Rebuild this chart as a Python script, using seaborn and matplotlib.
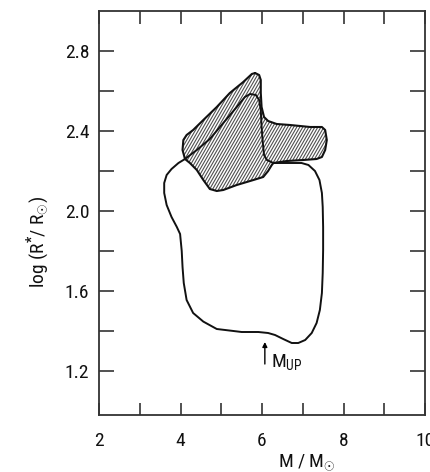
import matplotlib
matplotlib.use("Agg")
import matplotlib.pyplot as plt
from matplotlib import font_manager
from matplotlib.patches import Polygon
from matplotlib.collections import LineCollection
import seaborn as sns
import numpy as np
import pandas as pd

# Hatched region (outer outline), M/M_sun vs log(R*/R_sun)
hatch_x = [5.83, 5.93, 5.97, 5.97, 5.99, 6.05, 6.15, 6.36, 6.69, 7.18,
           7.47, 7.55, 7.59, 7.55, 7.47, 7.34, 7.01, 6.61, 6.28, 6.24,
           6.15, 6.03, 5.79, 5.38, 5.05, 4.89, 4.72, 4.56, 4.40, 4.23,
           4.11, 4.05, 4.07, 4.15, 4.31, 4.56, 4.89, 5.21, 5.54, 5.75]
hatch_y = [2.69, 2.68, 2.655, 2.59, 2.52, 2.47, 2.45, 2.435, 2.43, 2.42,
           2.42, 2.405, 2.355, 2.305, 2.27, 2.26, 2.255, 2.25, 2.24, 2.23,
           2.20, 2.17, 2.155, 2.13, 2.105, 2.10, 2.11, 2.155, 2.205, 2.24,
           2.26, 2.305, 2.355, 2.38, 2.405, 2.455, 2.52, 2.59, 2.645, 2.685]

# Open region outline
blob_x = [4.11, 4.40, 4.72, 5.05, 5.38, 5.58, 5.71, 5.85, 5.93, 5.97,
          5.99, 6.02, 6.05, 6.12, 6.28, 6.48, 6.73, 6.97, 7.14, 7.30,
          7.41, 7.47, 7.49, 7.50, 7.50, 7.49, 7.47, 7.42, 7.34, 7.22,
          7.06, 6.89, 6.73, 6.52, 6.32, 6.15, 5.91, 5.50, 5.30, 4.89,
          4.56, 4.31, 4.15, 4.08, 4.05, 4.03, 3.99, 3.91, 3.78, 3.66,
          3.60, 3.60, 3.66, 3.78, 3.95]
blob_y = [2.26, 2.305, 2.36, 2.44, 2.52, 2.57, 2.585, 2.58, 2.555, 2.505,
          2.42, 2.34, 2.28, 2.255, 2.24, 2.24, 2.24, 2.24, 2.23, 2.20,
          2.155, 2.09, 2.02, 1.92, 1.805, 1.69, 1.59, 1.505, 1.44, 1.39,
          1.355, 1.34, 1.34, 1.36, 1.38, 1.39, 1.395, 1.395, 1.40, 1.41,
          1.447, 1.49, 1.555, 1.64, 1.72, 1.80, 1.885, 1.92, 1.97, 2.03,
          2.09, 2.14, 2.18, 2.21, 2.24]

# M_UP marker
mup_x = 6.07
mup_y = [1.235, 1.345]
mup_label = r"M$_{\mathrm{UP}}$"

x_major = [2, 4, 6, 8, 10]
x_minor = [3, 5, 7, 9]
y_major = [1.2, 1.6, 2.0, 2.4, 2.8]
y_minor = [1.4, 1.8, 2.2, 2.6]

FS = 14


def pick_font(candidates):
    names = {f.name for f in font_manager.fontManager.ttflist}
    for name in candidates:
        if name in names:
            return name
    return "DejaVu Sans"


sns.set_theme(style="ticks")
main_font = pick_font(["Liberation Sans Narrow", "DejaVu Sans Condensed",
                       "Roboto Condensed", "Open Sans Condensed",
                       "Roboto", "Liberation Sans"])
plt.rcParams["font.family"] = [main_font, "DejaVu Sans"]
plt.rcParams["mathtext.fontset"] = "custom"
plt.rcParams["mathtext.rm"] = main_font
plt.rcParams["mathtext.it"] = main_font
plt.rcParams["mathtext.bf"] = main_font + ":bold"

fig = plt.figure(figsize=(4.30, 4.72), dpi=100)
ax = fig.add_axes([99 / 430, 1 - 415 / 472, 326 / 430, 404 / 472])
ax.set_xlim(2, 10)
ax.set_ylim(0.98, 3.0)

# hatched area: steep thin diagonal lines clipped to the outline
region = Polygon(np.column_stack([hatch_x, hatch_y]), closed=True,
                 facecolor="white", edgecolor="none", zorder=1)
ax.add_patch(region)
slope = 0.353          # about 60 degrees on screen
step = 0.074           # horizontal spacing of the hatch lines
y_lo, y_hi = min(hatch_y) - 0.02, max(hatch_y) + 0.02
x_lo = min(hatch_x) - (y_hi - y_lo) / slope
starts = np.arange(x_lo, max(hatch_x) + step, step)
segs = [[(x0, y_lo), (x0 + (y_hi - y_lo) / slope, y_hi)] for x0 in starts]
lc = LineCollection(segs, colors="#505050", linewidths=0.8, zorder=2)
ax.add_collection(lc)
lc.set_clip_path(region)

# open region outline (closed curve)
blob = pd.DataFrame({"m": blob_x + blob_x[:1], "r": blob_y + blob_y[:1]})
sns.lineplot(data=blob, x="m", y="r", sort=False, estimator=None,
             color="#111111", linewidth=1.4, ax=ax, zorder=3)

# outline of hatched area
hatch = pd.DataFrame({"m": hatch_x + hatch_x[:1], "r": hatch_y + hatch_y[:1]})
sns.lineplot(data=hatch, x="m", y="r", sort=False, estimator=None,
             color="#111111", linewidth=1.5, ax=ax, zorder=4)

ax.annotate("", xy=(mup_x, mup_y[1]), xytext=(mup_x, mup_y[0]),
            arrowprops=dict(arrowstyle="-|>", color="black", lw=1.0,
                            mutation_scale=7, shrinkA=0, shrinkB=0))
ax.text(mup_x + 0.15, 1.222, mup_label, fontsize=FS,
        ha="left", va="baseline", color="#111111")

ax.set_xticks(x_major)
ax.set_xticks(x_minor, minor=True)
ax.set_xticklabels([str(v) for v in x_major])
ax.set_yticks(y_major)
ax.set_yticks(y_minor, minor=True)
ax.set_yticklabels([f"{v:.1f}" for v in y_major])

for spine in ax.spines.values():
    spine.set_visible(True)
    spine.set_linewidth(1.3)
    spine.set_color("#333333")

ax.tick_params(axis="x", which="both", direction="in", top=True, bottom=True,
               length=9, width=1.2, color="#333333", labelsize=FS, pad=12,
               labelcolor="#111111")
ax.tick_params(axis="y", which="both", direction="in", left=True, right=True,
               length=11, width=1.2, color="#333333", labelsize=FS, pad=7,
               labelcolor="#111111")

ax.set_xlabel(r"M / M$_{\odot}$", fontsize=FS, color="#111111")
ax.set_ylabel(r"log (R$^{\mathbf{*}}$/ R$_{\odot}$)", fontsize=FS,
              color="#111111")
ax.xaxis.set_label_coords(0.638, -0.092)
ax.yaxis.set_label_coords(-0.144, 0.428)
ax.grid(False)

fig.savefig("out.png", dpi=100)
